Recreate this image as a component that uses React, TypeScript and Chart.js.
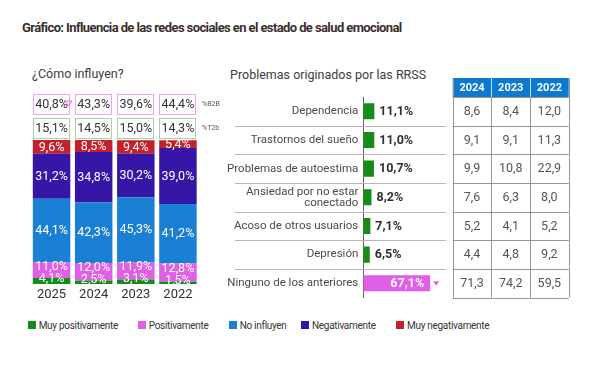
import React, { useEffect, useRef } from "react";
import { Chart, registerables } from "chart.js";
Chart.register(...registerables);

// ---------- data ----------
const years = ["2025", "2024", "2023", "2022"];
const muyPositivamente = [4.1, 2.5, 3.1, 1.5];
const positivamente = [11.0, 12.0, 11.9, 12.8];
const noInfluyen = [44.1, 42.3, 45.3, 41.2];
const negativamente = [31.2, 34.8, 30.2, 39.0];
const muyNegativamente = [9.6, 8.5, 9.4, 5.4];
const b2b = [40.8, 43.3, 39.6, 44.4];
const t2b = [15.1, 14.5, 15.0, 14.3];

const seriesLabels = ["Muy positivamente", "Positivamente", "No influyen", "Negativamente", "Muy negativamente"];
const seriesColors = ["#138c18", "#e15ee6", "#1a80d4", "#3516a6", "#c4202b"];

const problemas: (string | string[])[] = [
  "Dependencia",
  "Trastornos del sueño",
  "Problemas de autoestima",
  ["Ansiedad por no estar", "conectado"],
  "Acoso de otros usuarios",
  "Depresión",
  "Ninguno de los anteriores",
];
const problemas2025 = [11.1, 11.0, 10.7, 8.2, 7.1, 6.5, 67.1];
const tableYears = ["2024", "2023", "2022"];
const prob2024 = [8.6, 9.1, 9.9, 7.6, 5.2, 4.4, 71.3];
const prob2023 = [8.4, 9.1, 10.8, 6.3, 4.1, 4.8, 74.2];
const prob2022 = [12.0, 11.3, 22.9, 8.0, 5.2, 9.2, 59.5];

const FONT = "Roboto";
const fmt = (v: number) => v.toFixed(1).replace(".", ",");

// ---------- plugins ----------
const leftLabelsPlugin = {
  id: "leftLabels",
  afterDatasetsDraw(chart: any) {
    const ctx = chart.ctx;
    const area = chart.chartArea;
    ctx.save();
    ctx.beginPath();
    ctx.rect(area.left, area.top, area.right - area.left, area.bottom - area.top);
    ctx.clip();
    ctx.font = `12.5px ${FONT}`;
    ctx.fillStyle = "#ffffff";
    ctx.textAlign = "center";
    ctx.textBaseline = "middle";
    for (let i = 0; i < years.length; i++) {
      let greenY = 0;
      chart.data.datasets.forEach((ds: any, d: number) => {
        const el = chart.getDatasetMeta(d).data[i];
        const { x, y, base } = el.getProps(["x", "y", "base"], true);
        let cy = (y + base) / 2;
        if (d === 0) {
          cy = cy - 3;
          greenY = cy;
        }
        if (d === 1) cy = Math.min(cy, greenY - 12);
        ctx.fillText(fmt(ds.data[i]) + "%", x, cy + 0.5);
      });
    }
    ctx.restore();

    // boxes above the bars
    ctx.save();
    const rows = [
      { vals: b2b, color: "#eda6ee", label: "%B2B" },
      { vals: t2b, color: "#a6d69e", label: "%T2b" },
    ];
    const meta = chart.getDatasetMeta(0);
    rows.forEach((row, r) => {
      const top = area.top - 46 + r * 24;
      const h = 20;
      for (let i = 0; i < years.length; i++) {
        const { x, width } = meta.data[i].getProps(["x", "width"], true);
        const left = Math.round(x - width / 2) + 0.5;
        const w = Math.round(width) - 1;
        ctx.fillStyle = "#ffffff";
        ctx.fillRect(left, top + 0.5, w, h);
        ctx.strokeStyle = row.color;
        ctx.lineWidth = 1;
        ctx.strokeRect(left, top + 0.5, w, h);
        ctx.fillStyle = "#333333";
        ctx.font = `12.5px ${FONT}`;
        ctx.textAlign = "center";
        ctx.textBaseline = "middle";
        ctx.fillText(fmt(row.vals[i]) + "%", x, top + h / 2 + 1);
        if (r === 0 && i === 0) {
          const tx = left + w - 1;
          const ty = top + 7;
          ctx.beginPath();
          ctx.moveTo(tx - 3.5, ty);
          ctx.lineTo(tx + 3.5, ty);
          ctx.lineTo(tx, ty + 5);
          ctx.closePath();
          ctx.strokeStyle = "#e070e3";
          ctx.stroke();
        }
      }
      ctx.fillStyle = "#555555";
      ctx.font = `7px ${FONT}`;
      ctx.textAlign = "left";
      ctx.textBaseline = "middle";
      ctx.fillText(row.label, area.right + 3, top + h / 2 + 0.5);
    });
    ctx.restore();
  },
};

const middlePlugin = {
  id: "middleExtras",
  afterDraw(chart: any) {
    const ctx = chart.ctx;
    const area = chart.chartArea;
    const ys = chart.scales.y;
    const n = problemas.length;
    const rowH = (ys.bottom - ys.top) / n;
    ctx.save();
    ctx.strokeStyle = "#bbb4b0";
    ctx.lineWidth = 1;
    for (let i = 1; i < n; i++) {
      const y = Math.round(ys.top + i * rowH) + 0.5;
      ctx.beginPath();
      ctx.moveTo(15, y);
      ctx.lineTo(area.right, y);
      ctx.stroke();
    }
    const meta = chart.getDatasetMeta(0);
    meta.data.forEach((el: any, i: number) => {
      const { x, y } = el.getProps(["x", "y"], true);
      ctx.font = `bold 12.5px ${FONT}`;
      ctx.textBaseline = "middle";
      if (i === n - 1) {
        ctx.fillStyle = "#ffffff";
        ctx.textAlign = "right";
        ctx.fillText(fmt(problemas2025[i]) + "%", x - 6, y + 0.5);
        ctx.fillStyle = "#e15ee6";
        ctx.beginPath();
        ctx.moveTo(x + 3, y - 2);
        ctx.lineTo(x + 9, y - 2);
        ctx.lineTo(x + 6, y + 2.5);
        ctx.closePath();
        ctx.fill();
      } else {
        ctx.fillStyle = "#2f2f2f";
        ctx.textAlign = "left";
        ctx.fillText(fmt(problemas2025[i]) + "%", x + 5, y + 0.5);
      }
    });

    // table
    const cols = [prob2024, prob2023, prob2022];
    const left = area.right + 6.7;
    const colW = 38.67;
    const headH = 19;
    const headTop = ys.top - headH;
    ctx.fillStyle = "#0b79d0";
    ctx.fillRect(left, headTop, colW * 3, headH);
    ctx.fillStyle = "#ffffff";
    ctx.font = `bold 11px ${FONT}`;
    ctx.textAlign = "center";
    ctx.textBaseline = "middle";
    tableYears.forEach((yr, c) => {
      ctx.fillText(yr, left + colW * (c + 0.5), headTop + headH / 2 + 0.5);
    });
    ctx.strokeStyle = "rgba(255,255,255,0.75)";
    for (let c = 1; c < 3; c++) {
      const x = Math.round(left + c * colW) + 0.5;
      ctx.beginPath();
      ctx.moveTo(x, headTop);
      ctx.lineTo(x, ys.top);
      ctx.stroke();
    }
    ctx.strokeStyle = "#9d9490";
    for (let c = 0; c <= 3; c++) {
      const x = Math.round(left + c * colW) + 0.5;
      ctx.beginPath();
      ctx.moveTo(x, c === 0 || c === 3 ? headTop : ys.top);
      ctx.lineTo(x, ys.bottom);
      ctx.stroke();
    }
    for (let r = 0; r <= n; r++) {
      const y = Math.round(ys.top + r * rowH) + 0.5;
      ctx.beginPath();
      ctx.moveTo(left, y);
      ctx.lineTo(left + colW * 3, y);
      ctx.stroke();
    }
    ctx.fillStyle = "#555555";
    ctx.font = `12.5px ${FONT}`;
    cols.forEach((col, c) => {
      col.forEach((v, r) => {
        const cy = ys.getPixelForValue(r);
        ctx.fillText(fmt(v), left + colW * (c + 0.5), cy + 0.5);
      });
    });
    ctx.restore();
  },
};

// ---------- components ----------
function LeftChart() {
  const ref = useRef<HTMLCanvasElement>(null);
  useEffect(() => {
    const series = [muyPositivamente, positivamente, noInfluyen, negativamente, muyNegativamente];
    const chart = new Chart(ref.current!, {
      type: "bar",
      data: {
        labels: years,
        datasets: series.map((s, i) => ({
          label: seriesLabels[i],
          data: s,
          backgroundColor: seriesColors[i],
          borderWidth: 0,
          barPercentage: 0.89,
          categoryPercentage: 1,
        })),
      },
      options: {
        animation: false,
        responsive: false,
        devicePixelRatio: 1,
        layout: { padding: { left: 30.5, right: 26, top: 52, bottom: 0 } },
        plugins: { legend: { display: false }, tooltip: { enabled: false }, title: { display: false } },
        scales: {
          x: {
            stacked: true,
            grid: { display: false, drawTicks: false },
            border: { display: false },
            ticks: { color: "#333333", font: { family: FONT, size: 13 }, padding: 3 },
            afterFit: (s: any) => {
              s.height = 26;
            },
          },
          y: { stacked: true, display: false, min: 0, max: 100 },
        },
      },
      plugins: [leftLabelsPlugin],
    } as any);
    return () => chart.destroy();
  }, []);
  return (
    <canvas
      ref={ref}
      width={225}
      height={222}
      style={{ position: "absolute", left: 0, top: 88, width: 225, height: 222 }}
    />
  );
}

function MiddleChart() {
  const ref = useRef<HTMLCanvasElement>(null);
  useEffect(() => {
    const chart = new Chart(ref.current!, {
      type: "bar",
      data: {
        labels: problemas,
        datasets: [
          {
            label: "2025",
            data: problemas2025,
            backgroundColor: problemas2025.map((_, i) => (i === problemas2025.length - 1 ? "#e15ee6" : "#138c18")),
            borderWidth: 0,
            barPercentage: 0.56,
            categoryPercentage: 1,
          },
        ],
      },
      options: {
        indexAxis: "y",
        animation: false,
        responsive: false,
        devicePixelRatio: 1,
        layout: { padding: { left: 0, right: 164, top: 37, bottom: 12.4 } },
        plugins: { legend: { display: false }, tooltip: { enabled: false } },
        scales: {
          x: { display: false, min: 0, max: 83 },
          y: {
            grid: { display: false, drawTicks: false },
            border: { display: true, color: "#6b625e", width: 1 },
            ticks: {
              autoSkip: false,
              color: "#4a4a4a",
              padding: 5,
              font: { family: FONT, size: 11.5, lineHeight: 0.95 },
            },
            afterFit: (s: any) => {
              s.width = 143.3;
            },
          },
        },
      },
      plugins: [middlePlugin],
    } as any);
    return () => chart.destroy();
  }, []);
  return (
    <canvas
      ref={ref}
      width={390}
      height={250}
      style={{ position: "absolute", left: 220, top: 60, width: 390, height: 250 }}
    />
  );
}

const legendLefts = [27.7, 137.7, 228.7, 301, 396];

export default function App() {
  const text: React.CSSProperties = {
    position: "absolute",
    fontFamily: FONT,
    whiteSpace: "nowrap",
    lineHeight: "16px",
  };
  return (
    <div
      style={{
        position: "absolute",
        left: 0,
        top: 0,
        width: 610,
        height: 373,
        background: "#ffffff",
        overflow: "hidden",
      }}
    >
      <div
        style={{
          ...text,
          left: 22,
          top: 20,
          fontSize: 13,
          fontWeight: 700,
          letterSpacing: "-0.6px",
          color: "#3a2f2b",
        }}
      >
        Gráfico: Influencia de las redes sociales en el estado de salud emocional
      </div>
      <div style={{ ...text, left: 32, top: 66, fontSize: 12.5, color: "#3d3d3d" }}>¿Cómo influyen?</div>
      <div style={{ ...text, left: 230, top: 67, fontSize: 12.5, color: "#3d3d3d" }}>
        Problemas originados por las RRSS
      </div>
      <LeftChart />
      <MiddleChart />
      {seriesLabels.map((lab, i) => (
        <div
          key={lab}
          style={{
            position: "absolute",
            left: legendLefts[i],
            top: 317,
            height: 16,
            display: "flex",
            alignItems: "center",
            fontFamily: FONT,
            fontSize: 10,
            letterSpacing: "-0.3px",
            color: "#333333",
            whiteSpace: "nowrap",
          }}
        >
          <span style={{ display: "inline-block", width: 8, height: 8, background: seriesColors[i], marginRight: 3 }} />
          {lab}
        </div>
      ))}
    </div>
  );
}
